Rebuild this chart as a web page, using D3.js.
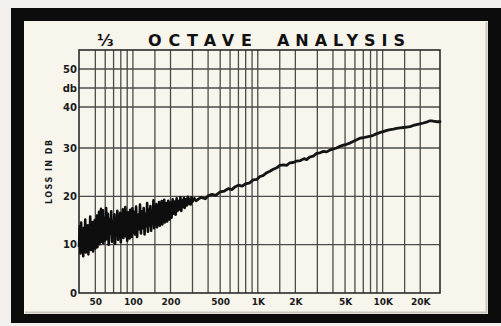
<!DOCTYPE html>
<html>
<head>
<meta charset="utf-8">
<script src="https://cdn.jsdelivr.net/npm/d3@7"></script>
<style>
  html, body { margin: 0; padding: 0; background: #f3efec; }
  svg { display: block; }
</style>
</head>
<body>
<script>
// Frequency grid (Hz): 1-2-3...9 lines per decade plus 150 / 1.5K / 15K
const freqGrid = [50, 60, 70, 80, 90, 100, 150, 200, 300, 400, 500, 600, 700, 800, 900,
  1000, 1500, 2000, 3000, 4000, 5000, 6000, 7000, 8000, 9000, 10000, 15000, 20000];
const freqTicks = [50, 100, 200, 500, 1000, 2000, 5000, 10000, 20000];
const freqTickLabels = ["50", "100", "200", "500", "1K", "2K", "5K", "10K", "20K"];

// Level grid (dB); the 45 line carries the unit label
const dbTicks = [0, 10, 20, 30, 40, 45, 50];
const dbTickLabels = ["0", "10", "20", "30", "40", "db", "50"];

// Analyzer trace, low end: fast fluctuating reading [Hz, dB]
const noiseTrace = [
  [37, 9.5], [37.5, 13.8], [38, 8.2], [38.5, 14.6], [39, 10.1], [39.5, 12.9], [40, 7.6], [40.5, 13.5],
  [41, 9.0], [41.5, 15.2], [42, 8.4], [42.5, 12.4], [43, 10.2], [43.5, 14.0], [44, 8.0], [44.5, 13.1],
  [45, 9.6], [45.5, 15.8], [46, 8.9], [46.5, 12.6], [47, 10.4], [47.5, 14.7], [48, 8.6], [48.5, 13.3],
  [49, 10.0], [49.5, 15.1], [50, 9.2], [50.5, 14.2], [51, 10.8], [51.5, 16.0], [52, 9.5], [52.5, 13.6],
  [53, 11.0], [53.5, 16.8], [54, 10.1], [54.5, 14.4], [55, 11.5], [55.5, 17.4], [56, 10.6], [56.5, 15.0],
  [57, 11.9], [57.5, 17.1], [58, 10.3], [58.5, 15.6], [59, 11.4], [59.5, 14.8], [60, 10.9],
  [61, 17.6], [62, 11.2], [63, 16.4], [64, 10.0], [65, 15.2], [66, 12.3], [67, 16.9], [68, 10.6],
  [69, 14.8], [70, 11.8], [71, 16.3], [72, 10.2], [73, 15.5], [74, 12.6], [75, 17.0], [76, 11.0],
  [77, 15.9], [78, 12.9], [79, 16.6], [80, 10.5], [81, 15.1], [82, 12.2], [83, 17.3], [84, 11.4],
  [85, 16.0], [86, 13.1], [87, 17.8], [88, 11.7], [89, 15.4], [90, 10.8], [91, 16.7], [92, 12.5],
  [93, 15.8], [94, 11.3], [95, 17.2], [96, 12.8], [97, 16.1], [98, 11.6], [99, 17.5], [100, 12.4],
  [102, 16.8], [104, 12.1], [106, 17.9], [108, 11.6], [110, 16.2], [112, 13.2], [114, 18.3], [116, 12.3],
  [118, 16.9], [120, 13.4], [122, 17.6], [124, 12.1], [126, 16.4], [128, 13.8], [130, 18.6], [132, 12.7],
  [134, 17.2], [136, 14.0], [138, 18.0], [140, 12.9], [142, 16.8], [144, 14.3], [146, 19.2], [148, 13.4],
  [150, 17.5], [152, 14.4], [154, 18.4], [156, 13.6], [158, 17.7], [160, 14.7], [162, 18.8], [164, 13.9],
  [166, 17.9], [168, 15.0], [170, 19.0], [172, 14.2], [174, 18.2], [176, 15.3], [178, 19.3], [180, 14.6],
  [184, 18.6], [188, 14.8], [192, 19.1], [196, 15.2], [200, 18.7], [204, 15.6], [208, 19.4], [212, 16.4],
  [216, 18.9], [220, 16.2], [224, 19.6], [228, 17.0], [232, 19.0], [236, 17.3], [240, 19.8], [244, 17.0],
  [248, 19.2], [252, 17.8], [256, 19.7], [260, 17.6], [265, 19.4], [270, 18.1], [275, 19.9], [280, 18.4],
  [285, 19.5], [290, 18.3], [295, 19.8], [300, 18.9], [310, 19.6], [320, 19.1]
];

// Analyzer trace, mid and high end: steadier reading [Hz, dB]
const sweepTrace = [
  [330, 19.3], [350, 19.8], [380, 19.5], [400, 20.1], [430, 20.4], [460, 20.2], [500, 20.9], [540, 21.1],
  [580, 21.6], [620, 21.4], [660, 22.0], [700, 22.3], [750, 22.1], [800, 22.6], [863, 22.8], [920, 23.4],
  [980, 23.5], [1040, 24.1], [1100, 24.3], [1180, 24.9], [1250, 25.2], [1330, 25.6], [1420, 25.9], [1500, 26.4],
  [1600, 26.5], [1700, 26.4], [1800, 26.9], [1920, 27.0], [2050, 27.3], [2200, 27.4], [2350, 27.8], [2460, 27.6],
  [2600, 28.1], [2780, 28.3], [2960, 28.9], [3150, 29.0], [3350, 29.3], [3560, 29.2], [3800, 29.6], [4050, 29.8],
  [4280, 30.0], [4550, 30.4], [4850, 30.7], [5150, 30.9], [5470, 31.2], [5800, 31.6], [6200, 32.0], [6580, 32.4],
  [7000, 32.5], [7500, 32.7], [8000, 32.9], [8410, 33.1], [9000, 33.5], [9600, 33.8], [10100, 34.0], [10800, 34.3],
  [11500, 34.5], [12200, 34.6], [12950, 34.8], [13800, 34.9], [14700, 35.0], [15600, 35.1], [16560, 35.2], [17600, 35.5],
  [18700, 35.7], [19900, 35.9], [21200, 36.1], [22400, 36.3], [23600, 36.6], [24700, 36.6], [26000, 36.5], [27500, 36.4],
  [28800, 36.4]
];

const W = 501, H = 326;
const plot = { left: 79, right: 440, top: 50, bottom: 293 };

const svg = d3.select("body").append("svg")
  .attr("width", W).attr("height", H);

// paper, black mat and card
svg.append("rect").attr("width", W).attr("height", H).attr("fill", "#f3efec");
svg.append("rect").attr("x", 11).attr("y", 8).attr("width", W - 11).attr("height", 315).attr("fill", "#0c0c0c");
svg.append("rect").attr("x", 24).attr("y", 21).attr("width", 464).attr("height", 293).attr("fill", "#f7f5ec");
svg.append("path")
  .attr("d", "M486.5,22 V312.5 H25")
  .attr("fill", "none").attr("stroke", "#c9c6bd").attr("stroke-width", 2);

// scales
const x = d3.scaleLog().domain([37, 28800]).range([plot.left, plot.right]);
// the printed level grid is compressed above 30 dB
const y = d3.scaleLinear()
  .domain([0, 30, 40, 55])
  .range([plot.bottom, 148, 107, plot.top]);

const grid = svg.append("g").attr("stroke", "#4b4b4b").attr("stroke-width", 1.3);
grid.selectAll("line.v").data(freqGrid).join("line")
  .attr("class", "v")
  .attr("x1", d => x(d)).attr("x2", d => x(d))
  .attr("y1", plot.top).attr("y2", plot.bottom);
grid.selectAll("line.h").data(dbTicks.filter(d => d > 0)).join("line")
  .attr("class", "h")
  .attr("x1", plot.left).attr("x2", plot.right)
  .attr("y1", d => y(d)).attr("y2", d => y(d));

svg.append("rect")
  .attr("x", plot.left).attr("y", plot.top)
  .attr("width", plot.right - plot.left).attr("height", plot.bottom - plot.top)
  .attr("fill", "none").attr("stroke", "#2b2b2b").attr("stroke-width", 1.6);

// axes
const fontFam = "'DejaVu Sans', sans-serif";
const xAxis = svg.append("g")
  .attr("transform", `translate(0,${plot.bottom})`)
  .call(d3.axisBottom(x).tickValues(freqTicks)
    .tickFormat((d, i) => freqTickLabels[i]).tickSize(0).tickPadding(6));
xAxis.select(".domain").remove();
xAxis.selectAll("text")
  .attr("font-family", fontFam).attr("font-weight", "bold")
  .attr("font-size", 9).attr("fill", "#1a1a1a");

const yAxis = svg.append("g")
  .attr("transform", `translate(${plot.left},0)`)
  .call(d3.axisLeft(y).tickValues(dbTicks)
    .tickFormat((d, i) => dbTickLabels[i]).tickSize(0).tickPadding(2));
yAxis.select(".domain").remove();
yAxis.selectAll("text")
  .attr("font-family", fontFam).attr("font-weight", "bold")
  .attr("font-size", 10).attr("fill", "#1a1a1a");

// axis title
svg.append("text")
  .attr("transform", "translate(52,172) rotate(-90)")
  .attr("text-anchor", "middle")
  .attr("font-family", fontFam).attr("font-weight", "bold")
  .attr("font-size", 8).attr("fill", "#1a1a1a")
  .attr("textLength", 64).attr("lengthAdjust", "spacing")
  .text("LOSS IN DB");

// chart heading
const heading = [
  { t: "\u2153", x: 97, w: 14 },
  { t: "OCTAVE", x: 148, w: 104 },
  { t: "ANALYSIS", x: 277, w: 128 }
];
svg.selectAll("text.head").data(heading).join("text")
  .attr("class", "head")
  .attr("x", d => d.x).attr("y", 46)
  .attr("font-family", fontFam).attr("font-weight", "bold")
  .attr("font-size", 16).attr("fill", "#111")
  .attr("textLength", d => d.w).attr("lengthAdjust", "spacing")
  .text(d => d.t);

// trace
const line = d3.line().x(d => x(d[0])).y(d => y(d[1]));
svg.append("path")
  .datum(noiseTrace)
  .attr("d", line)
  .attr("fill", "none").attr("stroke", "#0e0e0e")
  .attr("stroke-width", 2.6).attr("stroke-linejoin", "round");
svg.append("path")
  .datum(noiseTrace.slice(-1).concat(sweepTrace))
  .attr("d", line)
  .attr("fill", "none").attr("stroke", "#151515")
  .attr("stroke-width", 2.8).attr("stroke-linejoin", "round").attr("stroke-linecap", "round");
</script>
</body>
</html>
